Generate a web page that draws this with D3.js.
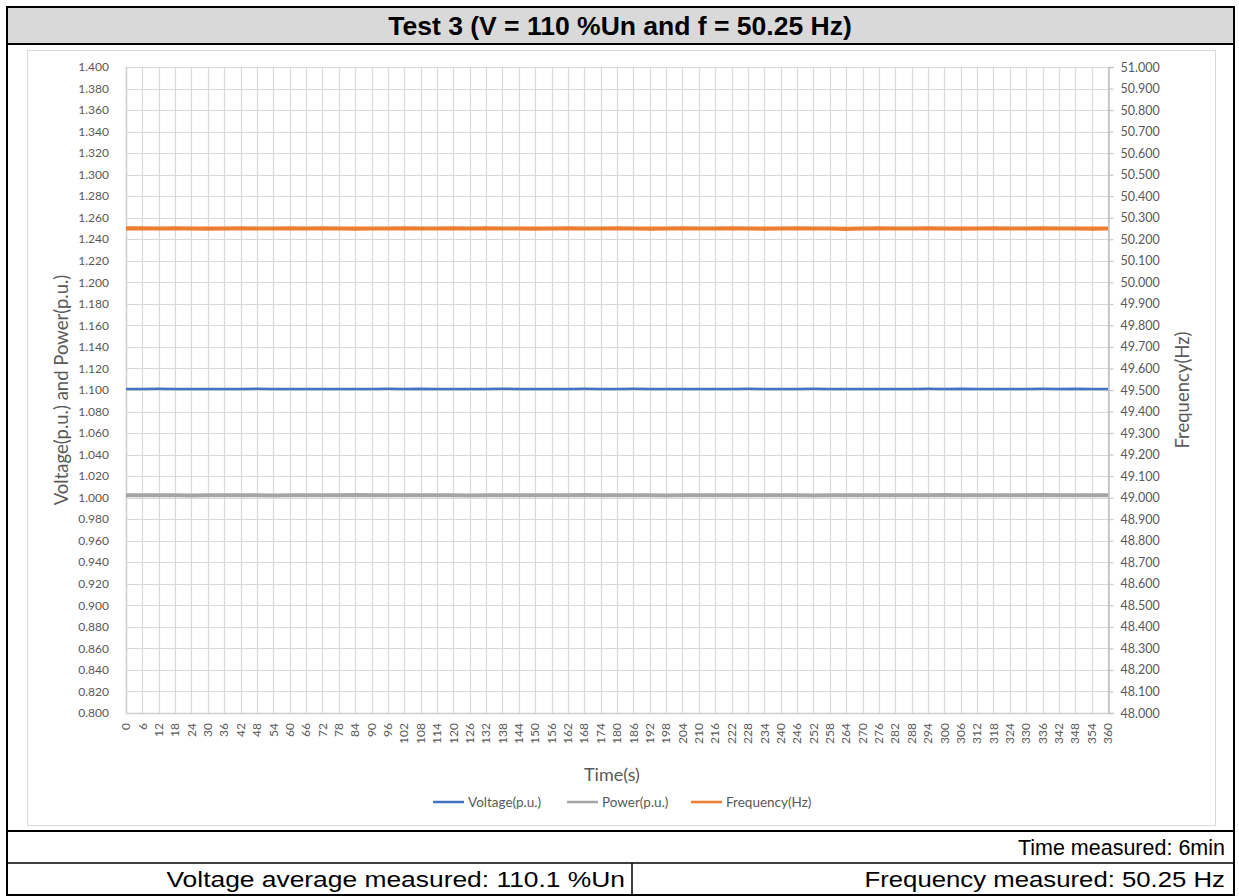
<!DOCTYPE html>
<html>
<head>
<meta charset="utf-8">
<script src="https://cdn.jsdelivr.net/npm/d3@7"></script>
<style>
  body { margin: 0; background: #fff; }
  text { font-family: Lato, "Open Sans", sans-serif; }
  .tbl { font-family: "Liberation Sans", Arial, sans-serif; }
</style>
</head>
<body>
<script>
// time categories (s) shown on the x axis
var timeTicks = [0, 6, 12, 18, 24, 30, 36, 42, 48, 54, 60, 66, 72, 78, 84, 90, 96, 102, 108, 114,
    120, 126, 132, 138, 144, 150, 156, 162, 168, 174, 180, 186, 192, 198, 204, 210, 216, 222, 228, 234,
    240, 246, 252, 258, 264, 270, 276, 282, 288, 294, 300, 306, 312, 318, 324, 330, 336, 342, 348, 354, 360]

var voltagePU = [1.101, 1.101, 1.1011, 1.101, 1.101, 1.1009, 1.101, 1.101, 1.1011, 1.101,
    1.101, 1.101, 1.1009, 1.101, 1.101, 1.101, 1.1011, 1.101, 1.1012, 1.101,
    1.101, 1.101, 1.101, 1.1011, 1.101, 1.101, 1.1009, 1.101, 1.1011, 1.101,
    1.101, 1.1011, 1.101, 1.101, 1.101, 1.1009, 1.101, 1.101, 1.1011, 1.101,
    1.101, 1.101, 1.1011, 1.101, 1.101, 1.1009, 1.101, 1.101, 1.101, 1.1011,
    1.101, 1.1012, 1.101, 1.101, 1.101, 1.101, 1.1011, 1.101, 1.1012, 1.101, 1.101]

var powerPU = [1.0022, 1.0022, 1.0023, 1.0022, 1.0021, 1.0022, 1.0023, 1.0022, 1.0022, 1.0021,
    1.0022, 1.0023, 1.0022, 1.0022, 1.0024, 1.0022, 1.0023, 1.0022, 1.0022, 1.0023,
    1.0022, 1.0021, 1.0022, 1.0023, 1.0022, 1.0022, 1.0023, 1.0022, 1.0024, 1.0022,
    1.0022, 1.0023, 1.0022, 1.0021, 1.0022, 1.0022, 1.0023, 1.0022, 1.0022, 1.0023,
    1.0022, 1.0022, 1.0021, 1.0022, 1.0023, 1.0022, 1.0022, 1.0023, 1.0022, 1.0022,
    1.0024, 1.0022, 1.0023, 1.0022, 1.0022, 1.0023, 1.0025, 1.0023, 1.0022, 1.0022, 1.0022]

var frequencyHz = [50.251, 50.251, 50.250, 50.251, 50.250, 50.249, 50.250, 50.251, 50.250, 50.250,
    50.251, 50.250, 50.251, 50.250, 50.249, 50.250, 50.250, 50.251, 50.250, 50.250,
    50.251, 50.250, 50.251, 50.250, 50.250, 50.249, 50.250, 50.251, 50.250, 50.250,
    50.251, 50.250, 50.249, 50.250, 50.251, 50.250, 50.250, 50.251, 50.250, 50.249,
    50.250, 50.251, 50.250, 50.250, 50.248, 50.250, 50.251, 50.250, 50.250, 50.251,
    50.250, 50.249, 50.250, 50.251, 50.250, 50.250, 50.251, 50.250, 50.250, 50.249, 50.250]

var leftTicks = [0.8, 0.82, 0.84, 0.86, 0.88, 0.9, 0.92, 0.94, 0.96, 0.98, 1.0, 1.02, 1.04, 1.06, 1.08,
    1.1, 1.12, 1.14, 1.16, 1.18, 1.2, 1.22, 1.24, 1.26, 1.28, 1.3, 1.32, 1.34, 1.36, 1.38, 1.4]
var rightTicks = [48.0, 48.1, 48.2, 48.3, 48.4, 48.5, 48.6, 48.7, 48.8, 48.9, 49.0, 49.1, 49.2, 49.3, 49.4,
    49.5, 49.6, 49.7, 49.8, 49.9, 50.0, 50.1, 50.2, 50.3, 50.4, 50.5, 50.6, 50.7, 50.8, 50.9, 51.0]

var seriesNames = ["Voltage(p.u.)", "Power(p.u.)", "Frequency(Hz)"]
var seriesColors = ["#4472c4", "#a5a5a5", "#ed7d31"]

var titleText = "Test 3 (V = 110 %Un and f = 50.25 Hz)"
var timeText = "Time measured: 6min"
var voltText = "Voltage average measured: 110.1 %Un"
var freqText = "Frequency measured: 50.25 Hz"

var W = 1239, H = 896
var plot = { left: 126, right: 1108, top: 67, bottom: 713 }

var svg = d3.select("body").append("svg")
    .attr("width", W)
    .attr("height", H)

var xScale = d3.scaleLinear().domain([0, 360]).range([plot.left, plot.right])
var yLeft = d3.scaleLinear().domain([0.8, 1.4]).range([plot.bottom, plot.top])
var yRight = d3.scaleLinear().domain([48, 51]).range([plot.bottom, plot.top])

// ---- table frame ----
svg.append("rect")
    .attr("x", 7).attr("y", 7).attr("width", 1227).attr("height", 37)
    .style("fill", "#d9d9d9")
svg.append("text")
    .attr("class", "tbl")
    .attr("x", 620).attr("y", 35)
    .attr("text-anchor", "middle")
    .style("font-weight", "bold").style("font-size", "26.5px").style("fill", "#000")
    .text(titleText)

// chart area border
svg.append("rect")
    .attr("x", 27.5).attr("y", 50.5).attr("width", 1188).attr("height", 775)
    .style("fill", "none").style("stroke", "#d9d9d9").style("stroke-width", 1)

// ---- grid ----
var grid = svg.append("g")
grid.selectAll(".hg").data(leftTicks).enter().append("line")
    .attr("x1", plot.left).attr("x2", plot.right)
    .attr("y1", d => Math.round(yLeft(d)) + 0.5).attr("y2", d => Math.round(yLeft(d)) + 0.5)
    .style("stroke", "#d9d9d9").style("stroke-width", 1.2)
grid.selectAll(".vg").data(timeTicks).enter().append("line")
    .attr("x1", d => Math.round(xScale(d)) + 0.5).attr("x2", d => Math.round(xScale(d)) + 0.5)
    .attr("y1", plot.top).attr("y2", plot.bottom)
    .style("stroke", "#d9d9d9").style("stroke-width", 1.2)

// axis lines
svg.append("line")
    .attr("x1", plot.left + 0.5).attr("x2", plot.left + 0.5).attr("y1", plot.top).attr("y2", plot.bottom)
    .style("stroke", "#cfcfcf").style("stroke-width", 1.5)
svg.append("line")
    .attr("x1", plot.left).attr("x2", plot.right).attr("y1", plot.bottom + 0.5).attr("y2", plot.bottom + 0.5)
    .style("stroke", "#cfcfcf").style("stroke-width", 1.5)

// left axis labels
svg.append("g").selectAll("text").data(leftTicks).enter().append("text")
    .attr("x", 109).attr("y", d => yLeft(d))
    .attr("dy", "0.35em")
    .attr("text-anchor", "end")
    .style("font-size", "12px").style("fill", "#595959")
    .text(d => d3.format(".3f")(d))

// right axis
var rAxis = svg.append("g")
    .attr("transform", "translate(" + (plot.right + 0.5) + ",0)")
    .call(d3.axisRight(yRight).tickValues(rightTicks).tickFormat(d3.format(".3f")).tickSize(5).tickPadding(7))
rAxis.select(".domain").style("stroke", "#bfbfbf").style("stroke-width", 1.5)
rAxis.selectAll(".tick line").style("stroke", "#bfbfbf")
rAxis.selectAll(".tick text")
    .style("font-family", "Lato, sans-serif").style("font-size", "12.5px").style("fill", "#595959")

// x axis labels (rotated)
svg.append("g").selectAll("text").data(timeTicks).enter().append("text")
    .attr("transform", d => "translate(" + xScale(d) + "," + (plot.bottom + 10) + ") rotate(-90)")
    .attr("dy", "0.35em")
    .attr("text-anchor", "end")
    .style("font-size", "12px").style("fill", "#595959")
    .text(d => d)

// axis titles
svg.append("text")
    .attr("x", 612).attr("y", 781)
    .attr("text-anchor", "middle")
    .style("font-size", "18px").style("fill", "#595959")
    .text("Time(s)")
svg.append("text")
    .attr("transform", "translate(62,390) rotate(-90)")
    .attr("dy", "0.35em")
    .attr("text-anchor", "middle")
    .style("font-size", "18.5px").style("fill", "#595959")
    .text("Voltage(p.u.) and Power(p.u.)")
svg.append("text")
    .attr("transform", "translate(1183,390) rotate(-90)")
    .attr("dy", "0.35em")
    .attr("text-anchor", "middle")
    .style("font-size", "18.5px").style("fill", "#595959")
    .text("Frequency(Hz)")

// ---- series ----
var lineLeft = d3.line().x((d, i) => xScale(timeTicks[i])).y(d => yLeft(d))
var lineRight = d3.line().x((d, i) => xScale(timeTicks[i])).y(d => yRight(d))

svg.append("path").datum(powerPU)
    .attr("d", lineLeft)
    .style("fill", "none").style("stroke", seriesColors[1]).style("stroke-width", 4)
svg.append("path").datum(voltagePU)
    .attr("d", lineLeft)
    .style("fill", "none").style("stroke", seriesColors[0]).style("stroke-width", 2.5)
svg.append("path").datum(frequencyHz)
    .attr("d", lineRight)
    .style("fill", "none").style("stroke", seriesColors[2]).style("stroke-width", 4.2)

// ---- legend ----
var legendX = [433, 567, 691]
var leg = svg.append("g").selectAll("g").data(seriesNames).enter().append("g")
    .attr("transform", (d, i) => "translate(" + legendX[i] + ",802)")
leg.append("line")
    .attr("x1", 0).attr("x2", 31).attr("y1", 0).attr("y2", 0)
    .style("stroke", (d, i) => seriesColors[i]).style("stroke-width", 2.5)
leg.append("text")
    .attr("x", 35).attr("dy", "0.35em")
    .style("font-size", "13.5px").style("fill", "#595959")
    .text(d => d)

// ---- bottom table ----
// the last row is set wider than the "Time measured" row in the original
svg.append("text").attr("class", "tbl")
    .attr("x", 1225).attr("y", 855)
    .attr("text-anchor", "end")
    .style("font-size", "21.5px").style("fill", "#000")
    .text(timeText)
svg.append("text").attr("class", "tbl")
    .attr("transform", "translate(625,887) scale(1.2,1)")
    .attr("text-anchor", "end")
    .style("font-size", "22px").style("fill", "#000")
    .text(voltText)
svg.append("text").attr("class", "tbl")
    .attr("transform", "translate(1225,887) scale(1.17,1)")
    .attr("text-anchor", "end")
    .style("font-size", "22px").style("fill", "#000")
    .text(freqText)

// frame lines
var frame = svg.append("g").style("stroke", "#000").style("fill", "none")
frame.append("rect")
    .attr("x", 7).attr("y", 7).attr("width", 1227).attr("height", 888)
    .style("stroke-width", 2)
frame.append("line").attr("x1", 7).attr("x2", 1234).attr("y1", 44).attr("y2", 44).style("stroke-width", 2)
frame.append("line").attr("x1", 7).attr("x2", 1234).attr("y1", 831).attr("y2", 831).style("stroke-width", 2)
frame.append("line").attr("x1", 7).attr("x2", 1234).attr("y1", 863).attr("y2", 863).style("stroke-width", 1.5)
frame.append("line").attr("x1", 632).attr("x2", 632).attr("y1", 863).attr("y2", 895).style("stroke-width", 1.5)
</script>
</body>
</html>
